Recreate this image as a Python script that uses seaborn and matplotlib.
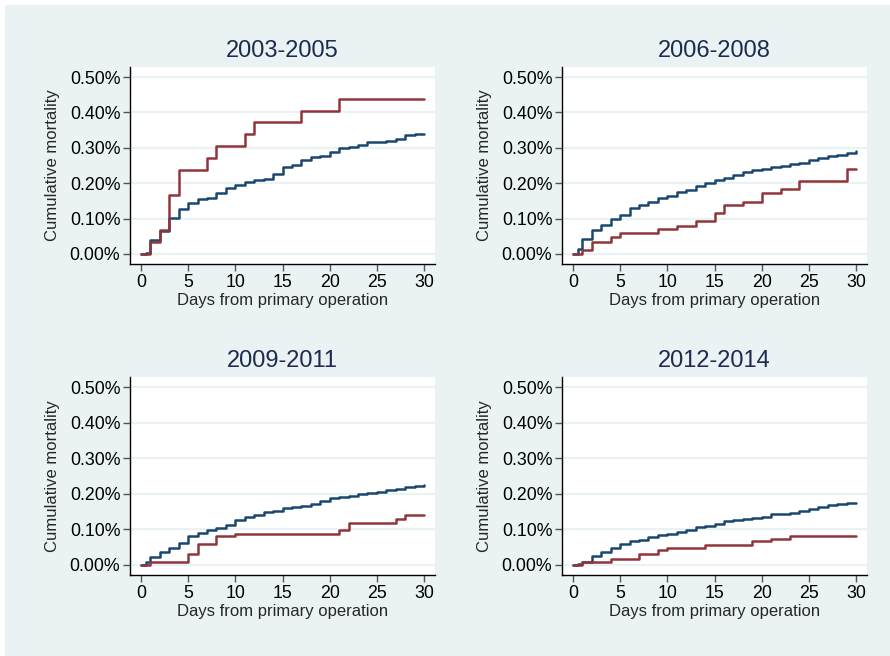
import numpy as np
import pandas as pd
import matplotlib
matplotlib.use("Agg")
import matplotlib.pyplot as plt
import matplotlib.ticker as mticker
import seaborn as sns

# ---------------- data ----------------
days = [0, 0.5] + list(range(1, 31))
periods = ["2003-2005", "2006-2008", "2009-2011", "2012-2014"]

blue_2003 = [0, 0.004, 0.039, 0.065, 0.101, 0.126, 0.145, 0.155, 0.157, 0.171, 0.186,
             0.194, 0.204, 0.208, 0.212, 0.225, 0.247, 0.252, 0.266, 0.275, 0.278,
             0.288, 0.300, 0.302, 0.307, 0.316, 0.317, 0.318, 0.325, 0.336, 0.338, 0.340]
red_2003 = [0, 0, 0.035, 0.068, 0.167, 0.237, 0.237, 0.237, 0.270, 0.304, 0.304,
            0.304, 0.338, 0.372, 0.372, 0.372, 0.372, 0.372, 0.403, 0.403, 0.403,
            0.403, 0.437, 0.437, 0.437, 0.437, 0.437, 0.437, 0.437, 0.437, 0.437, 0.437]

blue_2006 = [0, 0.014, 0.043, 0.068, 0.081, 0.099, 0.111, 0.129, 0.139, 0.147, 0.158,
             0.163, 0.175, 0.181, 0.191, 0.201, 0.208, 0.216, 0.224, 0.233, 0.237,
             0.240, 0.245, 0.248, 0.253, 0.258, 0.265, 0.271, 0.277, 0.281, 0.284, 0.292]
red_2006 = [0, 0, 0.012, 0.035, 0.035, 0.047, 0.058, 0.058, 0.058, 0.058, 0.070,
            0.070, 0.080, 0.080, 0.092, 0.092, 0.115, 0.139, 0.139, 0.148, 0.148,
            0.172, 0.172, 0.185, 0.185, 0.206, 0.206, 0.206, 0.206, 0.206, 0.241, 0.241]

blue_2009 = [0, 0.007, 0.021, 0.037, 0.048, 0.063, 0.080, 0.089, 0.097, 0.104, 0.113,
             0.126, 0.134, 0.141, 0.148, 0.153, 0.160, 0.162, 0.165, 0.170, 0.180,
             0.188, 0.192, 0.195, 0.198, 0.203, 0.205, 0.210, 0.214, 0.219, 0.222, 0.225]
red_2009 = [0, 0, 0.009, 0.009, 0.009, 0.009, 0.030, 0.058, 0.058, 0.080, 0.080,
            0.088, 0.088, 0.088, 0.088, 0.088, 0.088, 0.088, 0.088, 0.088, 0.088,
            0.088, 0.099, 0.119, 0.119, 0.119, 0.119, 0.119, 0.129, 0.139, 0.139, 0.139]

blue_2012 = [0, 0.004, 0.009, 0.026, 0.037, 0.047, 0.058, 0.066, 0.069, 0.078, 0.084,
             0.088, 0.092, 0.099, 0.106, 0.110, 0.116, 0.123, 0.127, 0.129, 0.133,
             0.136, 0.142, 0.144, 0.147, 0.152, 0.158, 0.164, 0.168, 0.170, 0.173, 0.175]
red_2012 = [0, 0, 0.007, 0.007, 0.007, 0.016, 0.016, 0.016, 0.031, 0.031, 0.041,
            0.049, 0.049, 0.049, 0.049, 0.057, 0.057, 0.057, 0.057, 0.057, 0.066,
            0.066, 0.073, 0.073, 0.081, 0.081, 0.081, 0.081, 0.081, 0.081, 0.081, 0.081]

blue_series = [blue_2003, blue_2006, blue_2009, blue_2012]
red_series = [red_2003, red_2006, red_2009, red_2012]

y_ticks = [0.0, 0.1, 0.2, 0.3, 0.4, 0.5]
x_ticks = [0, 5, 10, 15, 20, 25, 30]

# ---------------- style ----------------
BG = "#eaf2f3"
BLUE = "#1a476f"
RED = "#90353b"
TITLE_C = "#1c2b4f"

sns.set_style("white")
plt.rcParams["font.family"] = ["Liberation Sans", "DejaVu Sans"]

W, H = 890, 656
fig = plt.figure(figsize=(W / 100, H / 100), dpi=100, facecolor="white")
fig.patches.append(plt.Rectangle((5 / W, 0), 1 - 5 / W, 1 - 5 / H,
                                 transform=fig.transFigure, facecolor=BG,
                                 edgecolor="none", zorder=-10))

# axes pixel boxes: (left, right, top, bottom) in pixels from top-left
boxes = [(130, 435, 67, 264), (562, 867, 67, 264),
         (130, 435, 377, 575), (562, 867, 377, 575)]

for i, (l, r, t, b) in enumerate(boxes):
    ax = fig.add_axes([l / W, 1 - b / H, (r - l) / W, (b - t) / H])
    ax.set_facecolor("white")
    df = pd.DataFrame({
        "day": days * 2,
        "mort": blue_series[i] + red_series[i],
        "grp": ["a"] * len(days) + ["b"] * len(days),
    })
    ax.grid(False)
    for yt in y_ticks:
        ax.axhline(yt, color=BG, lw=1.6, zorder=0)
    sns.lineplot(data=df, x="day", y="mort", hue="grp",
                 palette={"a": BLUE, "b": RED}, drawstyle="steps-post",
                 linewidth=1.8, legend=False, ax=ax, zorder=3)
    ax.set_xlim(-1.15, 31.15)
    ax.set_ylim(-0.0283, 0.5283)
    ax.set_xticks(x_ticks)
    ax.set_yticks(y_ticks)
    ax.yaxis.set_major_formatter(mticker.FuncFormatter(lambda v, p: f"{v:.2f}%"))
    for s in ["top", "right"]:
        ax.spines[s].set_visible(False)
    for s in ["left", "bottom"]:
        ax.spines[s].set_color("black")
        ax.spines[s].set_linewidth(1.0)
    ax.tick_params(axis="both", direction="out", length=5, width=1.0,
                   color="#555555", labelsize=12.8, labelcolor="black", pad=2,
                   left=True, bottom=True)
    ax.set_xlabel("Days from primary operation", fontsize=12.0, labelpad=1.5)
    ax.set_ylabel("Cumulative mortality", fontsize=12.0, labelpad=7)
    ax.set_title(periods[i], fontsize=17, color=TITLE_C, pad=7)

fig.savefig("out.png", dpi=100, facecolor="white")
